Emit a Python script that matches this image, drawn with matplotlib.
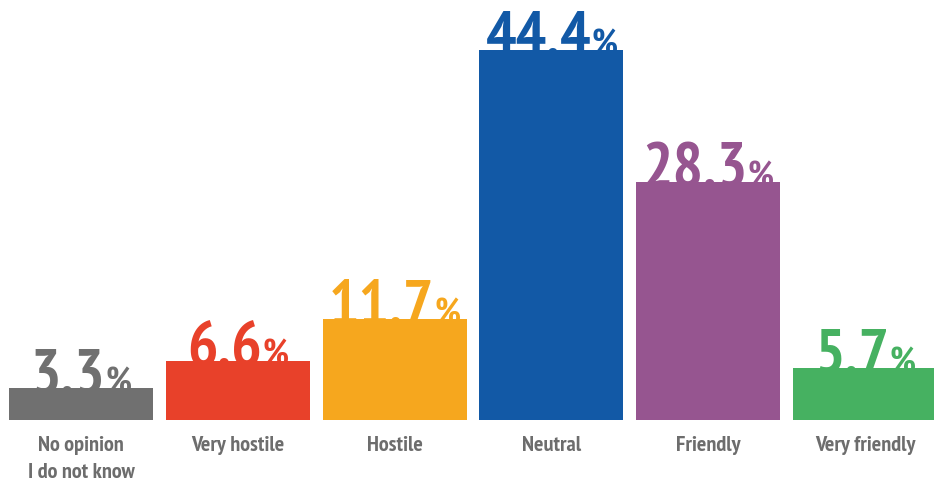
import matplotlib
matplotlib.use('Agg')
import matplotlib.pyplot as plt
import numpy as np

categories = ['No opinion\nI do not know', 'Very hostile', 'Hostile',
              'Neutral', 'Friendly', 'Very friendly']
values = [3.3, 6.6, 11.7, 44.4, 28.3, 5.7]
value_labels = ['3,3', '6,6', '11,7', '44,4', '28,3', '5,7']
colors = ['#707070', '#e8412a', '#f6a71e', '#1259a6', '#965590', '#46b161']

FONT = ['PT Sans Narrow', 'Fira Sans Condensed', 'Roboto Condensed', 'DejaVu Sans']
base = -0.6

fig = plt.figure(figsize=(9.34, 4.85), dpi=100)
ax = fig.add_axes([0, 64 / 485, 1, 421 / 485])

x = np.arange(len(values))
heights = [v - base for v in values]
ax.bar(x, heights, bottom=base, width=0.918, color=colors, zorder=2)

ax.set_xlim(-0.5166, 5.44)
ax.set_ylim(base, 50.6)
for s in ax.spines.values():
    s.set_visible(False)
ax.set_yticks([])
ax.set_xticks(x, categories)
ax.tick_params(axis='x', length=0, pad=11)
for lab in ax.get_xticklabels():
    lab.set_family(FONT)
    lab.set_fontweight('bold')
    lab.set_fontsize(16)
    lab.set_color('#6d6d6d')
    lab.set_linespacing(1.5)

# value labels sit behind the bars, number + smaller percent sign
nums, pcts = [], []
for xi, v, lbl, c in zip(x, values, value_labels, colors):
    t1 = ax.text(xi, v - 0.5, lbl, ha='right', va='baseline', color=c,
                 family=FONT, fontweight='bold', fontsize=46, zorder=1)
    t2 = ax.text(xi, v - 0.5, '%', ha='left', va='baseline', color=c,
                 family=FONT, fontweight='bold', fontsize=26, zorder=1)
    nums.append(t1)
    pcts.append(t2)

fig.canvas.draw()
r = fig.canvas.get_renderer()
inv = ax.transData.inverted()
for xi, v, t1, t2 in zip(x, values, nums, pcts):
    w1 = t1.get_window_extent(r).width
    w2 = t2.get_window_extent(r).width
    cx, cy = ax.transData.transform((xi, v - 0.5))
    px = cx + (w1 - w2) / 2
    nx, _ = inv.transform((px, cy))
    t1.set_x(nx)
    t2.set_x(nx)

fig.savefig('out.png', dpi=100)
